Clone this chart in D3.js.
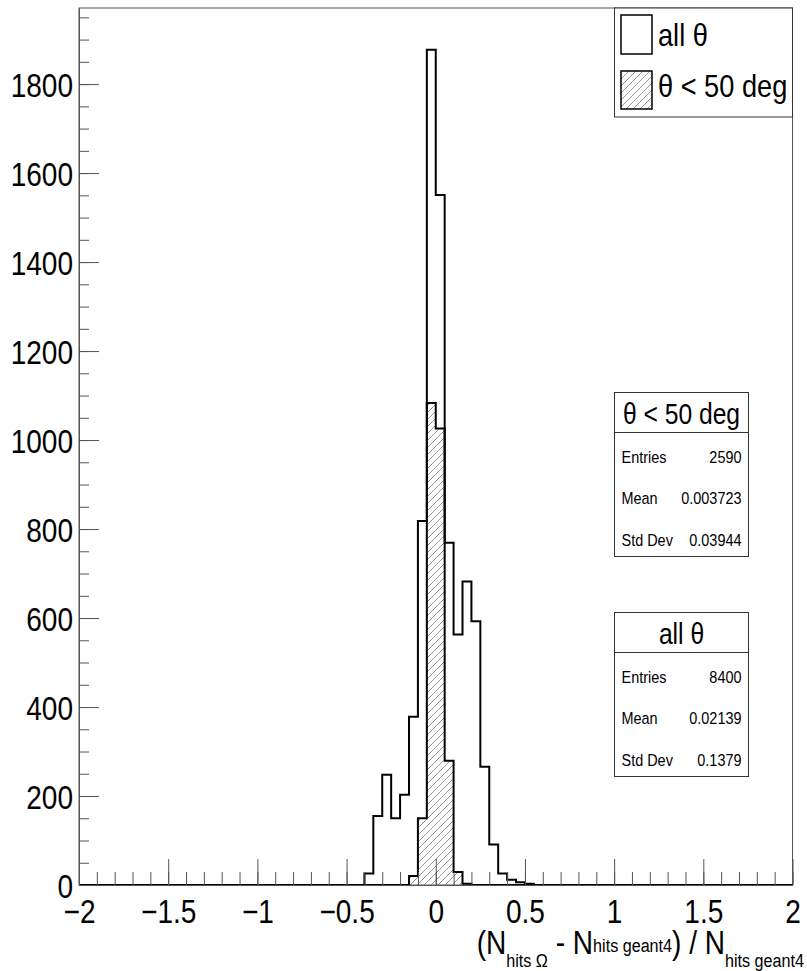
<!DOCTYPE html>
<html>
<head>
<meta charset="utf-8">
<script src="https://cdn.jsdelivr.net/npm/d3@7"></script>
<style>
  html, body { margin: 0; padding: 0; background: #fff; }
  svg { display: block; font-family: "Liberation Sans", Arial, Helvetica, sans-serif; }
</style>
</head>
<body>
<svg id="chart" width="807" height="971"></svg>
<script>
// Histogram bins: lower edges, bin width 0.05; bins outside are empty
const binLow = [-0.40, -0.35, -0.30, -0.25, -0.20, -0.15, -0.10, -0.05, 0.00, 0.05,
                0.10, 0.15, 0.20, 0.25, 0.30, 0.35, 0.40, 0.45, 0.50];
const binWidth = 0.05;
// "all θ" counts per bin
const allTheta = [26, 155, 248, 150, 203, 378, 818, 1877, 1551, 769,
                  563, 682, 593, 266, 91, 26, 12, 6, 3];
// "θ < 50 deg" counts per bin
const thetaLt50 = [0, 0, 0, 0, 0, 20, 150, 1083, 1026, 279,
                   29, 3, 0, 0, 0, 0, 0, 0, 0];

const xDomain = [-2, 2];
const yMax = 1971;
const xTickValues = [-2, -1.5, -1, -0.5, 0, 0.5, 1, 1.5, 2];
const xTickLabels = ["\u22122", "\u22121.5", "\u22121", "\u22120.5", "0", "0.5", "1", "1.5", "2"];
const yTickValues = [0, 200, 400, 600, 800, 1000, 1200, 1400, 1600, 1800];
const yTickLabels = ["0", "200", "400", "600", "800", "1000", "1200", "1400", "1600", "1800"];

const statsLt50 = { title: "\u03B8 < 50 deg", rows: [["Entries", "2590"], ["Mean", "0.003723"], ["Std Dev", "0.03944"]] };
const statsAll = { title: "all \u03B8", rows: [["Entries", "8400"], ["Mean", "0.02139"], ["Std Dev", "0.1379"]] };
const legendLabels = ["all \u03B8", "\u03B8 < 50 deg"];

const SX = 0.85; // horizontal squeeze applied to all text
const frame = { left: 79, top: 8, right: 792.5, bottom: 885 };
const svg = d3.select("#chart");

const x = d3.scaleLinear().domain(xDomain).range([frame.left, frame.right]);
const y = d3.scaleLinear().domain([0, yMax]).range([frame.bottom, frame.top]);

// hatch pattern
const defs = svg.append("defs");
const pat = defs.append("pattern").attr("id", "hatch")
  .attr("patternUnits", "userSpaceOnUse").attr("width", 7).attr("height", 7);
pat.append("path").attr("d", "M-1,1 L1,-1 M0,7 L7,0 M6,8 L8,6")
  .attr("stroke", "#7a7a7a").attr("stroke-width", 0.8);

function text(g, px, py, str, size, anchor) {
  return g.append("text")
    .attr("transform", `translate(${px},${py}) scale(${SX},1)`)
    .attr("text-anchor", anchor || "start")
    .attr("font-size", size)
    .attr("fill", "#000")
    .text(str);
}

// outer step outline of a histogram across the full axis range
function stepPath(counts) {
  const p = d3.path();
  p.moveTo(x(xDomain[0]), y(0));
  let prev = 0;
  binLow.forEach((lo, i) => {
    const v = counts[i];
    p.lineTo(x(lo), y(prev));
    p.lineTo(x(lo), y(v));
    p.lineTo(x(lo + binWidth), y(v));
    prev = v;
  });
  p.lineTo(x(binLow[binLow.length - 1] + binWidth), y(0));
  p.lineTo(x(xDomain[1]), y(0));
  return p.toString();
}

// frame
svg.append("rect")
  .attr("x", frame.left).attr("y", frame.top)
  .attr("width", frame.right - frame.left).attr("height", frame.bottom - frame.top)
  .attr("fill", "none").attr("stroke", "#555").attr("stroke-width", 1);

// histograms
svg.append("path").attr("d", stepPath(allTheta))
  .attr("fill", "none").attr("stroke", "#000").attr("stroke-width", 2);
svg.append("path").attr("d", stepPath(thetaLt50))
  .attr("fill", "url(#hatch)").attr("stroke", "#000").attr("stroke-width", 2);

// x axis: minor then major ticks, drawn inward
const xMinor = d3.range(-20, 21).map(d => d / 10);
svg.append("g").attr("transform", `translate(0,${frame.bottom})`)
  .call(d3.axisBottom(x).tickValues(xMinor).tickSize(-13).tickFormat(""))
  .call(g => g.select(".domain").remove())
  .call(g => g.selectAll("line").attr("stroke", "#555"));
const xAxis = svg.append("g").attr("transform", `translate(0,${frame.bottom})`)
  .call(d3.axisBottom(x).tickValues(xTickValues).tickSize(-26).tickSizeOuter(0)
    .tickFormat((d, i) => xTickLabels[i]).tickPadding(0));
xAxis.select(".domain").attr("stroke", "#555");
xAxis.selectAll("line").attr("stroke", "#555");
xAxis.selectAll("text")
  .attr("y", 38).attr("dy", null)
  .attr("font-size", 33).attr("fill", "#000")
  .attr("font-family", "Liberation Sans, Arial, sans-serif")
  .attr("transform", `scale(${SX},1)`);

// y axis
const yMinor = d3.range(0, 40).map(d => d * 50);
svg.append("g").attr("transform", `translate(${frame.left},0)`)
  .call(d3.axisLeft(y).tickValues(yMinor).tickSize(-10).tickFormat(""))
  .call(g => g.select(".domain").remove())
  .call(g => g.selectAll("line").attr("stroke", "#555"));
const yAxis = svg.append("g").attr("transform", `translate(${frame.left},0)`)
  .call(d3.axisLeft(y).tickValues(yTickValues).tickSize(-20).tickSizeOuter(0)
    .tickFormat((d, i) => yTickLabels[i]).tickPadding(0));
yAxis.select(".domain").attr("stroke", "#555");
yAxis.selectAll("line").attr("stroke", "#555");
yAxis.selectAll("text")
  .attr("x", -7).attr("dy", null).attr("y", 12)
  .attr("font-size", 33).attr("fill", "#000")
  .attr("font-family", "Liberation Sans, Arial, sans-serif")
  .attr("transform", `scale(${SX},1)`);

// axis title
const title = svg.append("text")
  .attr("transform", `translate(804,954) scale(${SX},1)`)
  .attr("text-anchor", "end").attr("fill", "#000");
title.append("tspan").attr("font-size", 33).text("(N");
title.append("tspan").attr("font-size", 19).attr("dy", 13).text("hits \u03A9");
title.append("tspan").attr("font-size", 33).attr("dy", -13).text(" - N");
title.append("tspan").attr("font-size", 19).attr("dy", -2).text("hits geant4");
title.append("tspan").attr("font-size", 33).attr("dy", 2).text(") / N");
title.append("tspan").attr("font-size", 19).attr("dy", 13).text("hits geant4");

// legend
const leg = svg.append("g");
leg.append("rect").attr("x", 614.5).attr("y", frame.top).attr("width", frame.right - 614.5).attr("height", 109)
  .attr("fill", "#fff").attr("stroke", "#333").attr("stroke-width", 1);
leg.append("rect").attr("x", 621).attr("y", 15).attr("width", 31).attr("height", 39)
  .attr("fill", "#fff").attr("stroke", "#000").attr("stroke-width", 1.5);
leg.append("rect").attr("x", 621).attr("y", 71).attr("width", 31).attr("height", 38)
  .attr("fill", "url(#hatch)").attr("stroke", "#000").attr("stroke-width", 1.5);
text(leg, 658, 46, legendLabels[0], 32);
text(leg, 658, 97, legendLabels[1], 32);

// statistics boxes
function statBox(stats, top) {
  const g = svg.append("g");
  const left = 614.5, right = 748.5, h = 164;
  g.append("rect").attr("x", left).attr("y", top).attr("width", right - left).attr("height", h)
    .attr("fill", "#fff").attr("stroke", "#333").attr("stroke-width", 1);
  g.append("line").attr("x1", left).attr("x2", right).attr("y1", top + 40).attr("y2", top + 40)
    .attr("stroke", "#333").attr("stroke-width", 1);
  text(g, (left + right) / 2, top + 31, stats.title, 29, "middle");
  stats.rows.forEach((r, i) => {
    const by = top + 70 + i * 41.5;
    text(g, left + 7, by, r[0], 17);
    text(g, right - 7, by, r[1], 17, "end");
  });
}
statBox(statsLt50, 392.5);
statBox(statsAll, 612.5);
</script>
</body>
</html>
